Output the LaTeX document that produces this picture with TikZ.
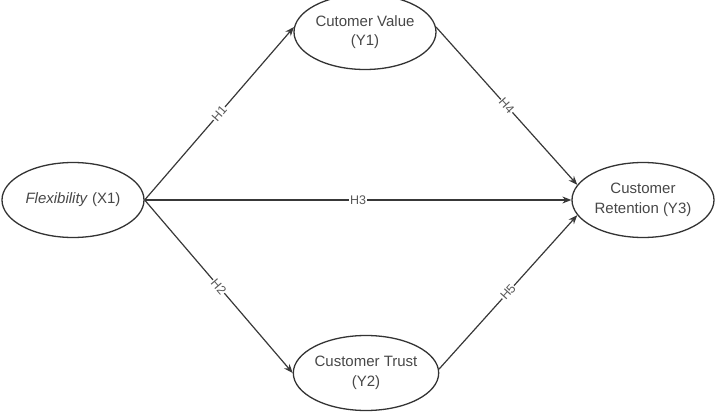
\documentclass[tikz,border=0pt]{standalone}
\usepackage{fontspec}
\setmainfont{Liberation Sans}
\usetikzlibrary{shapes.geometric,arrows.meta}
\begin{document}
\begin{tikzpicture}[x=1pt,y=-1pt,
  construct/.style={ellipse,draw=black!80,line width=1.3pt,minimum width=142pt,
    minimum height=75pt,inner sep=0pt,align=center,text=black!72,
    font=\fontsize{15}{19.5}\selectfont},
  path/.style={draw=black!78,line width=1.2pt,-{Stealth[length=9pt,width=7pt]}},
  hyp/.style={midway,sloped,fill=white,inner sep=0.6pt,text=black!65,
    font=\fontsize{12.5}{14}\selectfont}]
\useasboundingbox (0,0) rectangle (720,414);
\node[construct] (flex) at (73,200) {\textit{Flexibility} (X1)};
\node[construct] (val) at (365,32) {Cutomer Value\\(Y1)};
\node[construct] (ret) at (643,200) {Customer\\Retention (Y3)};
\node[construct] (trust) at (366,373) {Customer Trust\\(Y2)};
\draw[path] (flex.east) -- (val.176) node[hyp] {H1};
\draw[path] (flex.east) -- (trust.west) node[hyp] {H2};
\draw[path] (flex.east) -- (ret.west) node[hyp] {H3};
\draw[path] (val.4) -- (ret.167) node[hyp] {H4};
\draw[path] (trust.3) -- (ret.193) node[hyp] {H5};
\end{tikzpicture}
\end{document}
